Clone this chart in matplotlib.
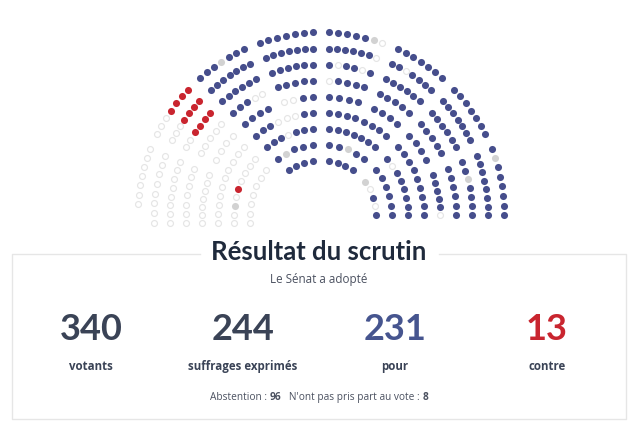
import numpy as np
import matplotlib
matplotlib.use("Agg")
import matplotlib.pyplot as plt

# p = pour, c = contre, a = abstention, n = n'a pas pris part au vote
# each row runs counter-clockwise, from bottom right to bottom left
row_55 = ["papan", "pppp", "pppp"]
row_71 = ["pppppp", "ppnpp", "pppnp", "aaaaaaa"]
row_87 = ["ppppppap", "ppppppp", "pppappp", "aaaacanaa"]
row_103 = ["ppppppppp", "pppppppp", "ppaaappp", "aaaaaaaaaa"]
row_119 = ["appppp", "pppp", "pppp", "pppp", "ppaa", "pppp", "aaaa", "aaaaaaa"]
row_135 = ["pppppp", "ppppp", "ppppp", "ppppa", "ppppp", "aappp", "aaaaa", "aaaaaaa"]
row_151 = ["ppppnpp", "pppppp", "pppppp", "pappap", "pppppp", "pppppp", "ccccaa", "aaaaaaaa"]
row_167 = ["pppppppp", "ppppppp", "ppppapp", "apppppp", "ppppppp", "ppppppp", "ccccaaa", "aaaaaaaa"]
row_183 = ["ppppppnp", "ppppppp", "ppppppp", "anppppp", "ppppppp", "pppnppp", "ccccaaa", "aaaaaaa"]
rows = [row_55, row_71, row_87, row_103, row_119, row_135, row_151, row_167, row_183]
radii = [55, 71, 87, 103, 119, 135, 151, 167, 183]

# angle of the last seat of each row on the left side
left_end = [125.4, 186.5, 185.3, 184.5, 183.9, 183.4, 183.0, 182.7, 176.5]
aisles_small = [46, 90]
aisles_mid = [46, 90, 134]
aisles_big = [23.8, 46, 67.8, 90, 112.2, 134, 156.2]
row_aisles = [aisles_small, aisles_mid, aisles_mid, aisles_mid,
              aisles_big, aisles_big, aisles_big, aisles_big, aisles_big]

totals_values = ["340", "244", "231", "13"]
totals_labels = ["votants", "suffrages exprimés", "pour", "contre"]
abstention = "96"
absents = "8"

BLUE = "#464e8c"
RED = "#c9252f"
GREY = "#d2d2d2"
RING = "#e5e5e5"
DARK = "#3a4356"
TEXT = "#4b5160"

cx, cy = 321, 215.3
half_gap = 8.3

fig = plt.figure(figsize=(6.38, 4.28), dpi=100)
ax = fig.add_axes([0, 0, 1, 1])
ax.set_xlim(0, 638)
ax.set_ylim(428, 0)
ax.axis("off")

# hemicycle
xs = {"p": [], "c": [], "a": [], "n": []}
ys = {"p": [], "c": [], "a": [], "n": []}
for runs, r, aisles, end in zip(rows, radii, row_aisles, left_end):
    gap = np.degrees(np.arcsin(half_gap / r))
    starts = [0] + [a + gap for a in aisles]
    stops = [a - gap for a in aisles] + [end]
    for seats, a0, a1 in zip(runs, starts, stops):
        angles = np.radians(np.linspace(a0, a1, len(seats)))
        for seat, t in zip(seats, angles):
            xs[seat].append(cx + r * np.cos(t))
            ys[seat].append(cy - r * np.sin(t))

ax.scatter(xs["a"], ys["a"], s=18, facecolor="white", edgecolor=RING, linewidth=0.85)
ax.scatter(xs["n"], ys["n"], s=26, color=GREY, linewidth=0)
ax.scatter(xs["p"], ys["p"], s=26, color=BLUE, linewidth=0)
ax.scatter(xs["c"], ys["c"], s=26, color=RED, linewidth=0)

# box around the results, open behind the title
box = "#e6e6e6"
ax.plot([200, 11.5, 11.5, 626, 626, 438.5], [254, 254, 419, 419, 254, 254], color=box, lw=1.0)

ax.text(319, 252, "Résultat du scrutin", family="Lato", weight="bold", fontsize=18.5,
        color="#1f2a3c", ha="center", va="center")
ax.text(319, 279, "Le Sénat a adopté", family="Open Sans", fontsize=8.4,
        color=TEXT, ha="center", va="center")

colors = [DARK, DARK, "#46558f", RED]
centers = [91, 243, 395, 547]
for value, label, color, x in zip(totals_values, totals_labels, colors, centers):
    ax.text(x, 329, value, family="Lato", weight="bold", fontsize=26, color=color,
            ha="center", va="center")
    ax.text(x, 366.5, label, family="Open Sans", weight="bold", fontsize=8.3, color=DARK,
            ha="center", va="center")

# bottom line, mixed weights so placed piece by piece
renderer = fig.canvas.get_renderer()
x = 210
for piece, weight in [("Abstention : ", "normal"), (abstention, "bold"),
                      ("   N'ont pas pris part au vote : ", "normal"), (absents, "bold")]:
    t = ax.text(x, 397.5, piece.replace(" ", "\u00a0"), family="Open Sans", weight=weight, fontsize=7.3,
                color=TEXT, ha="left", va="center")
    x = ax.transData.inverted().transform(t.get_window_extent(renderer))[1][0]

fig.savefig("out.png", dpi=100)
